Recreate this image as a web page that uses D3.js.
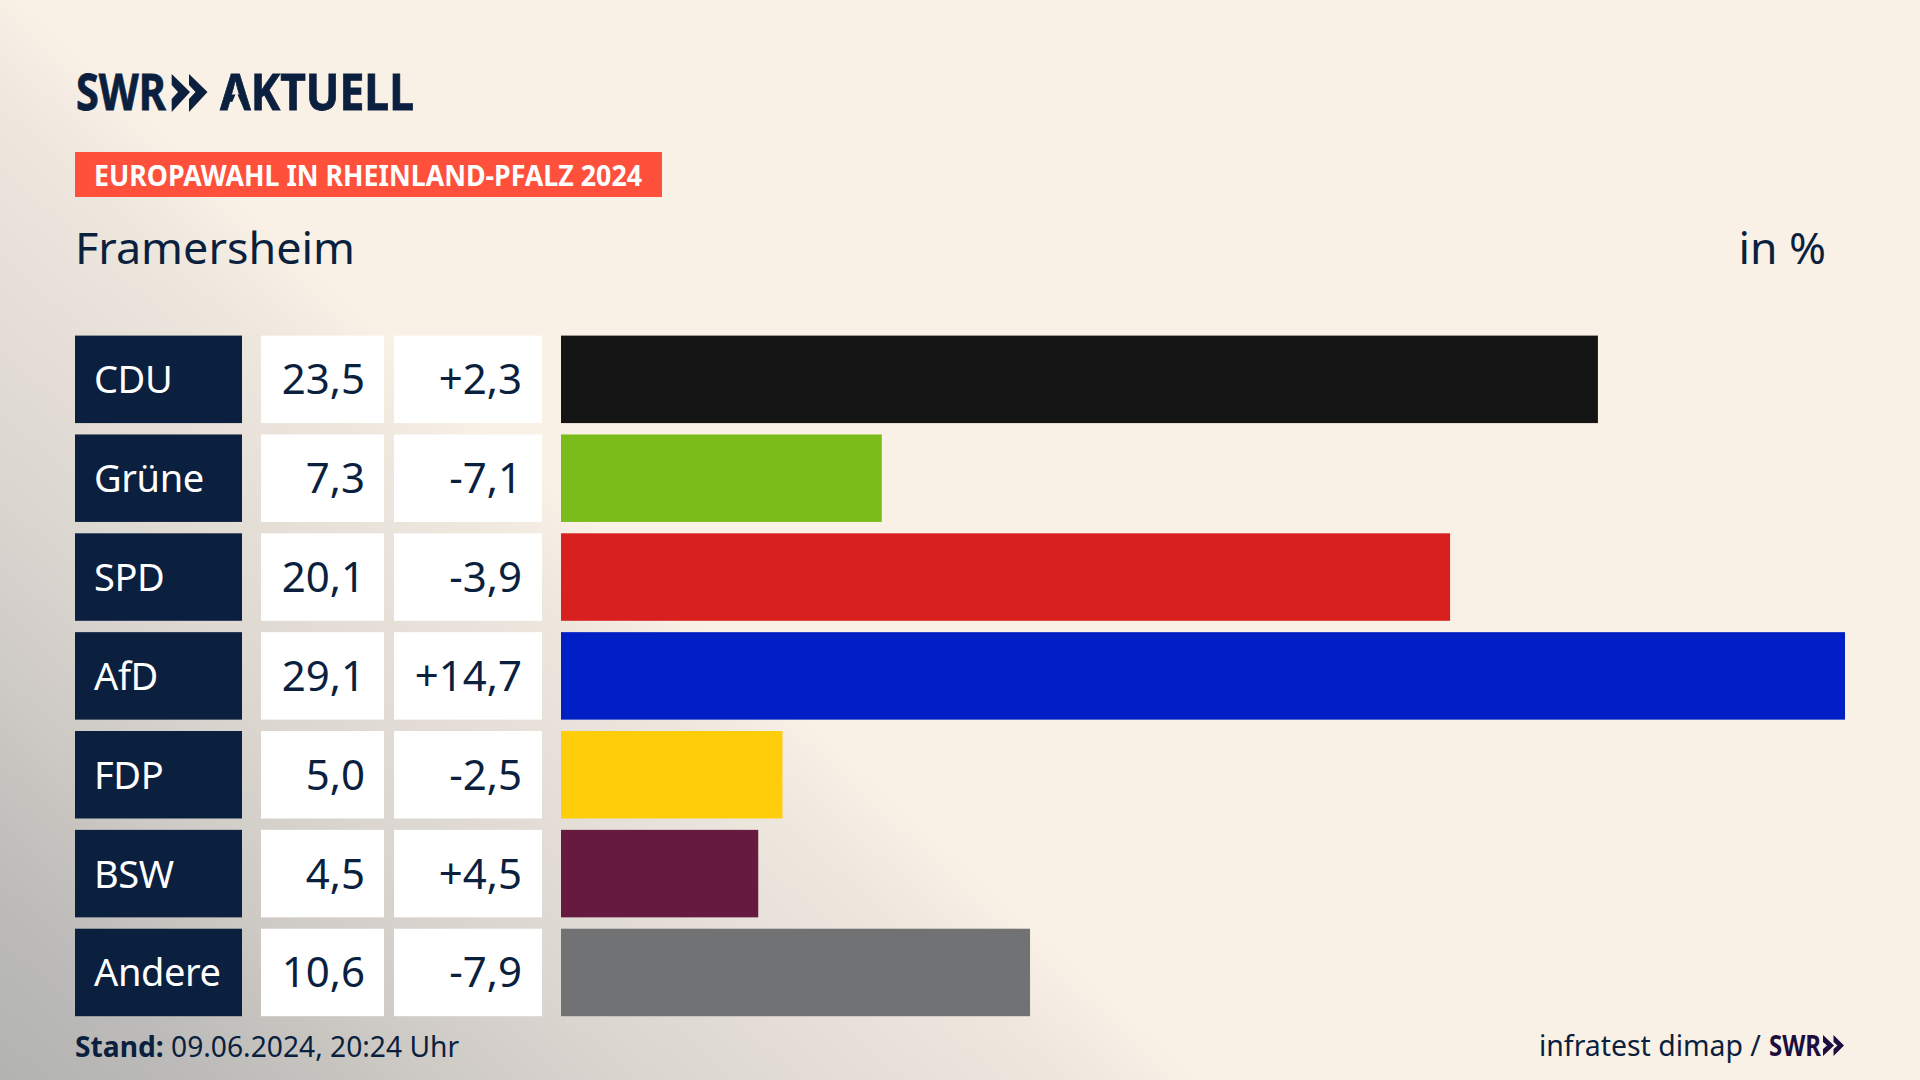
<!DOCTYPE html>
<html><head><meta charset="utf-8">
<script src="https://cdn.jsdelivr.net/npm/d3@7/dist/d3.min.js"></script>
<style>html,body{margin:0;padding:0;background:#faf1e6}svg{display:block}text{font-family:"Noto Sans",sans-serif}</style>
</head><body><svg id="c" width="1920" height="1080"></svg>
<script>
const parties=["CDU","Grüne","SPD","AfD","FDP","BSW","Andere"];
const shareLabels=["23,5","7,3","20,1","29,1","5,0","4,5","10,6"];
const diffLabels=["+2,3","-7,1","-3,9","+14,7","-2,5","+4,5","-7,9"];
const barLengths=[23.5,7.27,20.15,29.1,5.02,4.47,10.63];
const colors=["#141414","#7abd1b","#d8201f","#0020c6","#ffcd0a","#661a3f","#717274"];
const navy="#0b1f3f";
const svg=d3.select("#c");
const defs=svg.append("defs");
const nx=-0.674, ny=0.738, d0=-15, d1=797;
const g1=defs.append("linearGradient").attr("id","bg1").attr("gradientUnits","userSpaceOnUse")
 .attr("x1",d0*nx).attr("y1",d0*ny).attr("x2",d1*nx).attr("y2",d1*ny);
[[-15,"#faf1e6"],[20,"#f5ede3"],[76,"#eee7de"],[203,"#e6dfd8"],[356,"#dbd6d0"],[509,"#cdc9c4"],[660,"#bcbbb9"],[797,"#b3b3b2"]]
 .forEach(d=>g1.append("stop").attr("offset",(d[0]-d0)/(d1-d0)).attr("stop-color",d[1]));
svg.append("rect").attr("width",1920).attr("height",1080).attr("fill","url(#bg1)");

const y=d3.scaleBand().domain(parties).range([335.6,1016.2]).paddingInner(0.115);
const x=d3.scaleLinear().domain([0,29.1]).range([561,1845]);
const row=svg.selectAll("g.row").data(parties).join("g").attr("class","row").attr("transform",d=>`translate(0,${y(d)})`);
const h=y.bandwidth();
row.append("rect").attr("x",75).attr("width",167).attr("height",h).attr("fill",navy);
row.append("rect").attr("x",261).attr("width",123).attr("height",h).attr("fill","#fff");
row.append("rect").attr("x",394).attr("width",148).attr("height",h).attr("fill","#fff");
row.append("rect").attr("x",x(0)).attr("width",(d,i)=>x(barLengths[i])-x(0)).attr("height",h).attr("fill",(d,i)=>colors[i]);
row.append("text").attr("x",94).attr("y",h/2+14).attr("font-size",38).attr("letter-spacing",-0.4).attr("fill","#fff").text(d=>d);
row.append("text").attr("x",365).attr("y",h/2+15).attr("text-anchor","end").attr("font-size",42).attr("fill",navy).text((d,i)=>shareLabels[i]);
row.append("text").attr("x",522).attr("y",h/2+15).attr("text-anchor","end").attr("font-size",42).attr("fill",navy).text((d,i)=>diffLabels[i]);

// header
const m=defs.append("mask").attr("id","noBar").attr("maskUnits","userSpaceOnUse").attr("x",0).attr("y",0).attr("width",1920).attr("height",1080);
m.append("rect").attr("width",1920).attr("height",1080).attr("fill","#fff");
m.append("polygon").attr("points","236.5,92 228.5,111 244.5,111").attr("fill","#000");
const logo=svg.append("g").attr("fill",navy).attr("stroke",navy).attr("stroke-width",0.8);
logo.append("text").attr("x",76).attr("y",110).attr("font-size",50).attr("font-weight",700).attr("textLength",90).attr("lengthAdjust","spacingAndGlyphs").text("SWR");
logo.append("path").attr("stroke","none").attr("d","M171.7 74L190 92L171.7 112L171.7 99L178 92L171.7 85Z M189 74L207.5 92L189 112L189 99L195.5 92L189 85Z");
logo.append("text").attr("x",220).attr("y",110).attr("font-size",50).attr("font-weight",700).attr("textLength",194).attr("lengthAdjust","spacingAndGlyphs").attr("mask","url(#noBar)").text("AKTUELL");
svg.append("rect").attr("x",75).attr("y",152).attr("width",587).attr("height",45).attr("fill","#ff503c");
svg.append("text").attr("x",94).attr("y",186).attr("font-size",29).attr("font-weight",700).attr("fill","#fff").attr("textLength",548).attr("lengthAdjust","spacingAndGlyphs").text("EUROPAWAHL IN RHEINLAND-PFALZ 2024");
svg.append("text").attr("x",75).attr("y",264).attr("font-size",44).attr("fill",navy).attr("textLength",280).attr("lengthAdjust","spacingAndGlyphs").text("Framersheim");
svg.append("text").attr("x",1826).attr("y",264).attr("text-anchor","end").attr("font-size",44.5).attr("fill",navy).text("in %");
// footer
const st=svg.append("text").attr("x",75).attr("y",1057).attr("font-size",28.2).attr("fill",navy);
st.append("tspan").attr("font-weight",700).text("Stand:");
st.append("tspan").text(" 09.06.2024, 20:24 Uhr");
svg.append("text").attr("x",1539).attr("y",1056).attr("font-size",28.4).attr("fill",navy).text("infratest dimap /");
const lg=svg.append("g").attr("fill","#1c0f3f");
lg.append("text").attr("x",1769).attr("y",1056).attr("font-size",29).attr("font-weight",700).attr("textLength",52).attr("lengthAdjust","spacingAndGlyphs").text("SWR");
lg.append("path").attr("d","M1823 1035L1834 1045.5L1823 1056L1823 1049L1827 1045.5L1823 1042Z M1833.5 1035L1844 1045.5L1833.5 1056L1833.5 1049L1837.5 1045.5L1833.5 1042Z");
</script></body></html>
